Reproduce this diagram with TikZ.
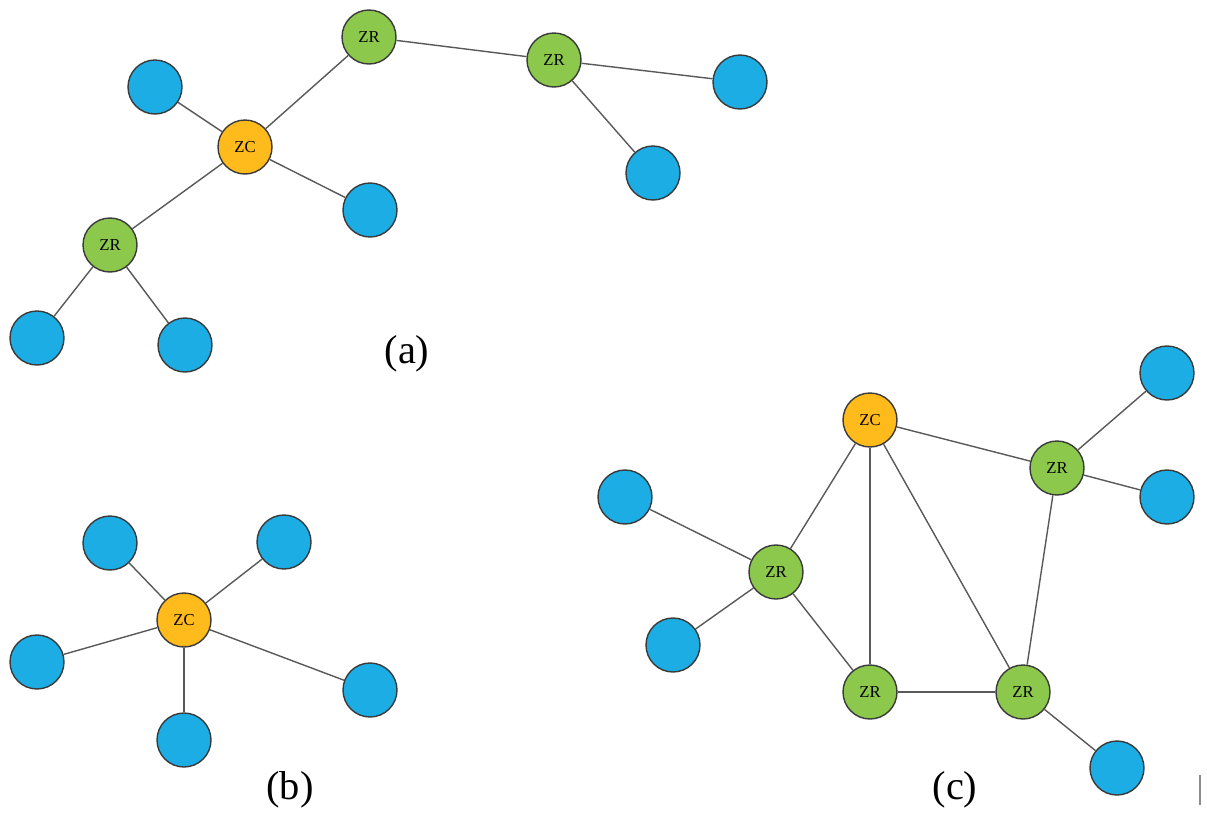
\documentclass[tikz,border=0pt]{standalone}
\usepackage{fontspec}
\setmainfont{Liberation Serif}
\definecolor{zcorange}{HTML}{FFBA1C}
\definecolor{zrgreen}{HTML}{8CC84B}
\definecolor{edblue}{HTML}{1CADE4}
\definecolor{rim}{HTML}{3A3A3A}
\tikzset{
	dev/.style={circle, draw=rim, line width=0.8pt, minimum size=1.08cm, inner sep=0pt, font=\fontsize{9.5}{9.5}\selectfont},
	zc/.style={dev, fill=zcorange},
	zr/.style={dev, fill=zrgreen},
	ed/.style={dev, fill=edblue},
	link/.style={draw=black!65, line width=0.8pt},
	tag/.style={font=\fontsize{23}{23}\selectfont}
}

\begin{document}
\begin{tikzpicture}[x=0.02cm, y=-0.02cm]
			%%%%% START %%%%%
			
			\useasboundingbox (0, 0) rectangle (1207, 812);
			
			% (a)
			\node[zr] (aR1) at (369, 37) {ZR};
			\node[zr] (aR2) at (554, 60) {ZR};
			\node[zc] (aC) at (245, 147) {ZC};
			\node[zr] (aR3) at (110, 245) {ZR};
			\node[ed] (aE1) at (155, 87) {};
			\node[ed] (aE2) at (740, 82) {};
			\node[ed] (aE3) at (653, 173) {};
			\node[ed] (aE4) at (370, 210) {};
			\node[ed] (aE5) at (37, 338) {};
			\node[ed] (aE6) at (185, 345) {};
			
			\draw[link] (aR1) -- (aR2);
			\draw[link] (aR1) -- (aC);
			\draw[link] (aR2) -- (aE2);
			\draw[link] (aR2) -- (aE3);
			\draw[link] (aC) -- (aE1);
			\draw[link] (aC) -- (aE4);
			\draw[link] (aC) -- (aR3);
			\draw[link] (aR3) -- (aE5);
			\draw[link] (aR3) -- (aE6);
			
			\node[tag] (aTag) at (407, 354) {(a)};
			
			% (b)
			\node[zc] (bC) at (184, 620) {ZC};
			\node[ed] (bE1) at (110, 543) {};
			\node[ed] (bE2) at (284, 542) {};
			\node[ed] (bE3) at (37, 662) {};
			\node[ed] (bE4) at (370, 690) {};
			\node[ed] (bE5) at (184, 740) {};
			
			\foreach \e in {bE1, bE2, bE3, bE4, bE5}
				\draw[link] (bC) -- (\e);
			
			\node[tag] (bTag) at (290, 790) {(b)};
			
			% (c)
			\node[zc] (cC) at (870, 420) {ZC};
			\node[zr] (cR1) at (1057, 468) {ZR};
			\node[zr] (cR2) at (776, 572) {ZR};
			\node[zr] (cR3) at (870, 692) {ZR};
			\node[zr] (cR4) at (1023, 692) {ZR};
			\node[ed] (cE1) at (1167, 373) {};
			\node[ed] (cE2) at (1167, 497) {};
			\node[ed] (cE3) at (625, 497) {};
			\node[ed] (cE4) at (673, 645) {};
			\node[ed] (cE5) at (1117, 768) {};
			
			\draw[link] (cC) -- (cR1);
			\draw[link] (cC) -- (cR2);
			\draw[link] (cC) -- (cR3);
			\draw[link] (cC) -- (cR4);
			\draw[link] (cR1) -- (cR4);
			\draw[link] (cR2) -- (cR3);
			\draw[link] (cR3) -- (cR4);
			\draw[link] (cR1) -- (cE1);
			\draw[link] (cR1) -- (cE2);
			\draw[link] (cR2) -- (cE3);
			\draw[link] (cR2) -- (cE4);
			\draw[link] (cR4) -- (cE5);
			
			\node[tag] (cTag) at (955, 790) {(c)};
			
			\draw[black!45, line width=0.8pt] (1200, 775) -- (1200, 805);
			
			%%%%% END %%%%%
\end{tikzpicture}
\end{document}
